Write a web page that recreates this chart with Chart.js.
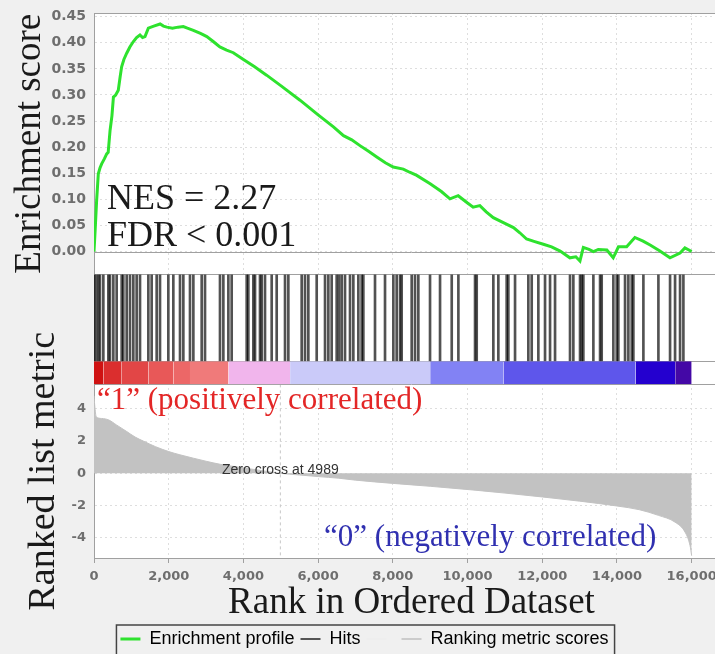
<!DOCTYPE html>
<html>
<head>
<meta charset="utf-8">
<script src="https://cdn.jsdelivr.net/npm/chart.js@4.4.1/dist/chart.umd.min.js"></script>
<style>
  html, body { margin: 0; padding: 0; background: #f0f0f0; overflow: hidden; }
  #wrap { width: 735px; height: 658px; }
</style>
</head>
<body>
<div id="wrap"><canvas id="gsea" width="735" height="658"></canvas></div>
<script>
// running enrichment score
var esRank = [0, 30, 70, 115, 160, 205, 280, 340, 380, 430, 480, 520, 580, 650, 700, 740, 800, 875, 960,
  1050, 1140, 1230, 1300, 1365, 1455, 1600, 1770, 1860, 1950, 2100, 2250, 2390, 2500, 2660, 2850, 3020,
  3200, 3370, 3550, 3730, 4000, 4300, 4620, 5000, 5515, 6000, 6410, 6680, 6900, 7120, 7350, 7570, 7800,
  8010, 8280, 8450, 8640, 9000, 9300, 9530, 9750, 10000, 10150, 10330, 10500, 10690, 11000, 11230, 11400,
  11580, 11800, 12030, 12250, 12480, 12740, 12900, 13010, 13100, 13250, 13370, 13500, 13730, 13900, 14040,
  14260, 14480, 14700, 14900, 15150, 15420, 15690, 15820, 16000];
var esScore = [0, 0.04, 0.097, 0.149, 0.16, 0.168, 0.178, 0.187, 0.19, 0.232, 0.26, 0.296, 0.30, 0.309, 0.335,
  0.354, 0.368, 0.38, 0.392, 0.402, 0.41, 0.415, 0.41, 0.412, 0.428, 0.432, 0.436, 0.432, 0.43, 0.428, 0.43,
  0.431, 0.428, 0.424, 0.418, 0.412, 0.402, 0.392, 0.386, 0.381, 0.368, 0.354, 0.338, 0.318, 0.29, 0.262,
  0.239, 0.222, 0.214, 0.203, 0.192, 0.181, 0.17, 0.162, 0.158, 0.152, 0.146, 0.13, 0.115, 0.101, 0.107,
  0.093, 0.085, 0.088, 0.076, 0.065, 0.054, 0.046, 0.036, 0.024, 0.019, 0.014, 0.009, 0.001, -0.012, -0.01,
  -0.018, 0.008, 0.004, 0, 0.004, 0.003, -0.012, 0.009, 0.009, 0.027, 0.02, 0.012, 0.001, -0.012, -0.003,
  0.007, 0];

// positions of the gene set members in the ranked list
var hitRanks = [0, 54, 116, 160, 250, 384, 428, 518, 607, 741, 785, 875, 964, 1053, 1142, 1232, 1455, 1544,
  1678, 1767, 1990, 2124, 2303, 2392, 2570, 2660, 2883, 2972, 3373, 3463, 3597, 3686, 4088, 4132, 4266,
  4311, 4444, 4489, 4578, 4757, 4891, 5114, 5203, 5560, 5649, 5738, 5962, 6185, 6274, 6363, 6497, 6560,
  6631, 6720, 6854, 6943, 7077, 7166, 7211, 7523, 7791, 8014, 8103, 8193, 8237, 8505, 8594, 8683, 8996,
  9264, 9577, 9755, 10201, 10246, 10691, 10825, 11048, 11093, 11272, 11628, 11718, 11896, 12075, 12209,
  12343, 12744, 12833, 13012, 13057, 13101, 13369, 13548, 13592, 13904, 13994, 14038, 14217, 14306, 14396,
  14440, 14708, 15110, 15422, 15556, 15690, 15779];

// ranked list metric (grey area)
var metricRank = [0, 20, 60, 200, 400, 600, 870, 1100, 1320, 1650, 2000, 2300, 2660, 3000, 3380, 3700, 4000,
  4400, 4800, 4989, 5500, 6000, 6550, 7000, 8000, 9000, 10200, 11000, 12000, 13000, 14000, 14600, 15110,
  15556, 15824, 15958, 16000];
var metricValue = [4.8, 4.2, 3.5, 3.4, 3.3, 3.0, 2.6, 2.25, 2.0, 1.65, 1.35, 1.15, 0.94, 0.75, 0.56, 0.44, 0.34,
  0.2, 0.06, 0, -0.1, -0.2, -0.3, -0.42, -0.62, -0.8, -1.04, -1.22, -1.46, -1.72, -2.02, -2.25, -2.6, -3.02,
  -3.64, -4.48, -5.1];
var zeroCross = 4989;

// heat strip under the hits: segment edges (rank) and colours
var barEdges = [0, 250, 741, 1455, 2124, 2570, 3600, 5250, 9000, 10960, 14500, 15560, 16000];
var barColors = ['#cf1212', '#db2e2e', '#e24646', '#e85858', '#ec6767', '#f07a7a', '#f1b5ec', '#cacaf9',
  '#8282f4', '#5e56eb', '#2400cf', '#4408a6'];

// tick values
var xTicks = [0, 2000, 4000, 6000, 8000, 10000, 12000, 14000, 16000];
var esTicks = [0, 0.05, 0.1, 0.15, 0.2, 0.25, 0.3, 0.35, 0.4, 0.45];
var metricTicks = [-4, -2, 0, 2, 4];

var legendLabels = ['Enrichment profile', 'Hits', '', 'Ranking metric scores'];
var legendColors = ['#2ee22e', '#555555', '#eeeeee', '#cccccc'];

var serif = '"Liberation Serif", "Times New Roman", serif';
var axisGrey = '#a0a0a0';
var tickFont = {family: '"DejaVu Sans"', size: 13, weight: 'bold'};

function fitLeft(scale) {
  scale.width = 94;
  scale.paddingTop = 0;
  scale.paddingBottom = 0;
}

function useTicks(values) {
  return function(scale) {
    scale.ticks = values.map(function(v) { return {value: v}; });
  };
}

function textAt(chart, txt, xv, yv, axis, font, color, align, baseline) {
  var ctx = chart.ctx;
  ctx.save();
  ctx.font = font;
  ctx.fillStyle = color;
  ctx.textAlign = align;
  ctx.textBaseline = baseline;
  ctx.fillText(txt, chart.scales.x.getPixelForValue(xv), chart.scales[axis].getPixelForValue(yv));
  ctx.restore();
}

var gseaPanels = {
  id: 'gseaPanels',
  beforeDraw: function(chart) {
    var ctx = chart.ctx, a = chart.chartArea;
    ctx.save();
    ctx.fillStyle = '#ffffff';
    ctx.fillRect(a.left, a.top, a.right - a.left, a.bottom - a.top);
    ctx.restore();
  },
  beforeDatasetsDraw: function(chart) {
    var ctx = chart.ctx, a = chart.chartArea, s = chart.scales;
    ctx.save();
    // hits + colour strip have no grid
    ctx.fillStyle = '#ffffff';
    ctx.fillRect(a.left + 1, s.yHits.top, a.right - a.left - 1, s.yBar.bottom - s.yHits.top);
    var zx = s.x.getPixelForValue(zeroCross);
    ctx.strokeStyle = '#c8c8c8';
    ctx.lineWidth = 1;
    ctx.setLineDash([3, 3]);
    ctx.beginPath();
    ctx.moveTo(zx, s.yM.top);
    ctx.lineTo(zx, s.yM.bottom);
    ctx.stroke();
    ctx.setLineDash([]);
    ctx.strokeStyle = axisGrey;
    var ys = [a.top, s.yES.getPixelForValue(0), s.yHits.top, s.yBar.top, s.yBar.bottom];
    ys.forEach(function(y) {
      ctx.beginPath();
      ctx.moveTo(a.left, Math.round(y) + 0.5);
      ctx.lineTo(a.right, Math.round(y) + 0.5);
      ctx.stroke();
    });
    ctx.restore();
  },
  afterDatasetsDraw: function(chart) {
    textAt(chart, 'NES = 2.27', 348, 0.082, 'yES', '36px ' + serif, '#1a1a1a', 'left', 'alphabetic');
    textAt(chart, 'FDR < 0.001', 348, 0.011, 'yES', '36px ' + serif, '#1a1a1a', 'left', 'alphabetic');
    textAt(chart, '\u201c1\u201d (positively correlated)', 80, 3.98, 'yM', '31px ' + serif, '#e32626', 'left', 'alphabetic');
    textAt(chart, '\u201c0\u201d (negatively correlated)', 6160, -4.52, 'yM', '31px ' + serif, '#3030b0', 'left', 'alphabetic');
    textAt(chart, 'Zero cross at ' + zeroCross, zeroCross, 0.2, 'yM', '14px "Liberation Sans"', '#333333', 'center', 'middle');
  },
  afterDraw: function(chart) {
    var lg = chart.legend, hb = lg.legendHitBoxes, ctx = chart.ctx;
    var l = Math.min.apply(null, hb.map(function(h) { return h.left; }));
    var r = Math.max.apply(null, hb.map(function(h) { return h.left + h.width; }));
    ctx.save();
    ctx.strokeStyle = '#444444';
    ctx.lineWidth = 1.5;
    ctx.strokeRect(l - 4, lg.top + 1, r - l + 10, 40);
    ctx.restore();
  }
};

var datasets = [{
  type: 'line',
  label: 'Enrichment profile',
  data: esRank.map(function(r, i) { return {x: r, y: esScore[i]}; }),
  yAxisID: 'yES',
  borderColor: '#2ee22e',
  borderWidth: 3,
  pointRadius: 0,
  fill: false
}, {
  type: 'bar',
  label: 'Hits',
  data: hitRanks.map(function(r) { return {x: r, y: 1}; }),
  yAxisID: 'yHits',
  backgroundColor: 'rgba(0, 0, 0, 0.68)',
  barThickness: 2,
  grouped: false
}, {
  type: 'line',
  label: 'Ranking metric scores',
  data: metricRank.map(function(r, i) { return {x: r, y: metricValue[i]}; }),
  yAxisID: 'yM',
  borderColor: '#c2c2c2',
  backgroundColor: '#c2c2c2',
  borderWidth: 1,
  pointRadius: 0,
  cubicInterpolationMode: 'monotone',
  fill: 'origin'
}];

for (var i = 0; i < barColors.length; i++) {
  datasets.push({
    type: 'line',
    label: 'strip' + i,
    data: [{x: barEdges[i], y: 1}, {x: barEdges[i + 1], y: 1}],
    yAxisID: 'yBar',
    borderWidth: 0,
    pointRadius: 0,
    backgroundColor: barColors[i],
    fill: 'origin'
  });
}

new Chart(document.getElementById('gsea'), {
  type: 'bar',
  data: {datasets: datasets},
  plugins: [gseaPanels],
  options: {
    responsive: false,
    animation: false,
    layout: {padding: {top: 13, left: 0, right: 6, bottom: 0}},
    plugins: {
      tooltip: {enabled: false},
      legend: {
        position: 'bottom',
        onClick: null,
        labels: {
          usePointStyle: true,
          pointStyleWidth: 20,
          padding: 6,
          color: '#111111',
          font: {family: '"Liberation Sans"', size: 18},
          generateLabels: function() {
            return legendLabels.map(function(t, i) {
              return {text: t, pointStyle: 'line', strokeStyle: legendColors[i], fillStyle: legendColors[i],
                lineWidth: i === 0 ? 3 : 2, datasetIndex: i};
            });
          }
        }
      }
    },
    scales: {
      x: {
        type: 'linear', min: 0, max: 17000, offset: false,
        afterBuildTicks: useTicks(xTicks),
        ticks: {padding: 6, color: '#6e6e6e', font: tickFont, maxRotation: 0, autoSkip: false,
          callback: function(v) { return v.toLocaleString('en-US'); }},
        grid: {color: '#dedede', offset: false, tickLength: 5, tickColor: axisGrey},
        border: {color: axisGrey, dash: [2, 3]},
        title: {display: true, text: 'Rank in Ordered Dataset', color: '#1a1a1a',
          font: {family: serif, size: 37, lineHeight: 0.6}, padding: {top: 1.2, bottom: 10}}
      },
      yM: {
        type: 'linear', position: 'left', stack: 'gsea', stackWeight: 173, weight: 0,
        min: -5.24, max: 5.51,
        afterBuildTicks: useTicks(metricTicks),
        ticks: {padding: 8, color: '#6e6e6e', font: tickFont, autoSkip: false},
        grid: {color: '#dedede', drawTicks: false},
        border: {color: axisGrey, dash: [2, 3]},
        title: {display: true, text: 'Ranked list metric', color: '#1a1a1a',
          font: {family: serif, size: 38, lineHeight: 1}, padding: {top: 25, bottom: 0}},
        afterFit: fitLeft
      },
      yBar: {
        type: 'linear', position: 'left', stack: 'gsea', stackWeight: 23, weight: 1,
        min: 0, max: 1,
        ticks: {display: false}, grid: {display: false}, border: {color: axisGrey},
        afterFit: fitLeft
      },
      yHits: {
        type: 'linear', position: 'left', stack: 'gsea', stackWeight: 86.5, weight: 2,
        min: 0, max: 1,
        ticks: {display: false}, grid: {display: false}, border: {color: axisGrey},
        afterFit: fitLeft
      },
      yES: {
        type: 'linear', position: 'left', stack: 'gsea', stackWeight: 260.5, weight: 3,
        min: -0.0439, max: 0.4571,
        afterBuildTicks: useTicks(esTicks),
        ticks: {padding: 8, color: '#6e6e6e', font: {family: '"DejaVu Sans"', size: 14, weight: 'bold'},
          autoSkip: false, callback: function(v) { return v.toFixed(2); }},
        grid: {color: '#dedede', drawTicks: false},
        border: {color: axisGrey, dash: [2, 3]},
        title: {display: true, text: 'Enrichment score', color: '#1a1a1a',
          font: {family: serif, size: 37, lineHeight: 1}, padding: {top: 12, bottom: 0}},
        afterFit: fitLeft
      }
    }
  }
});
</script>
</body>
</html>
